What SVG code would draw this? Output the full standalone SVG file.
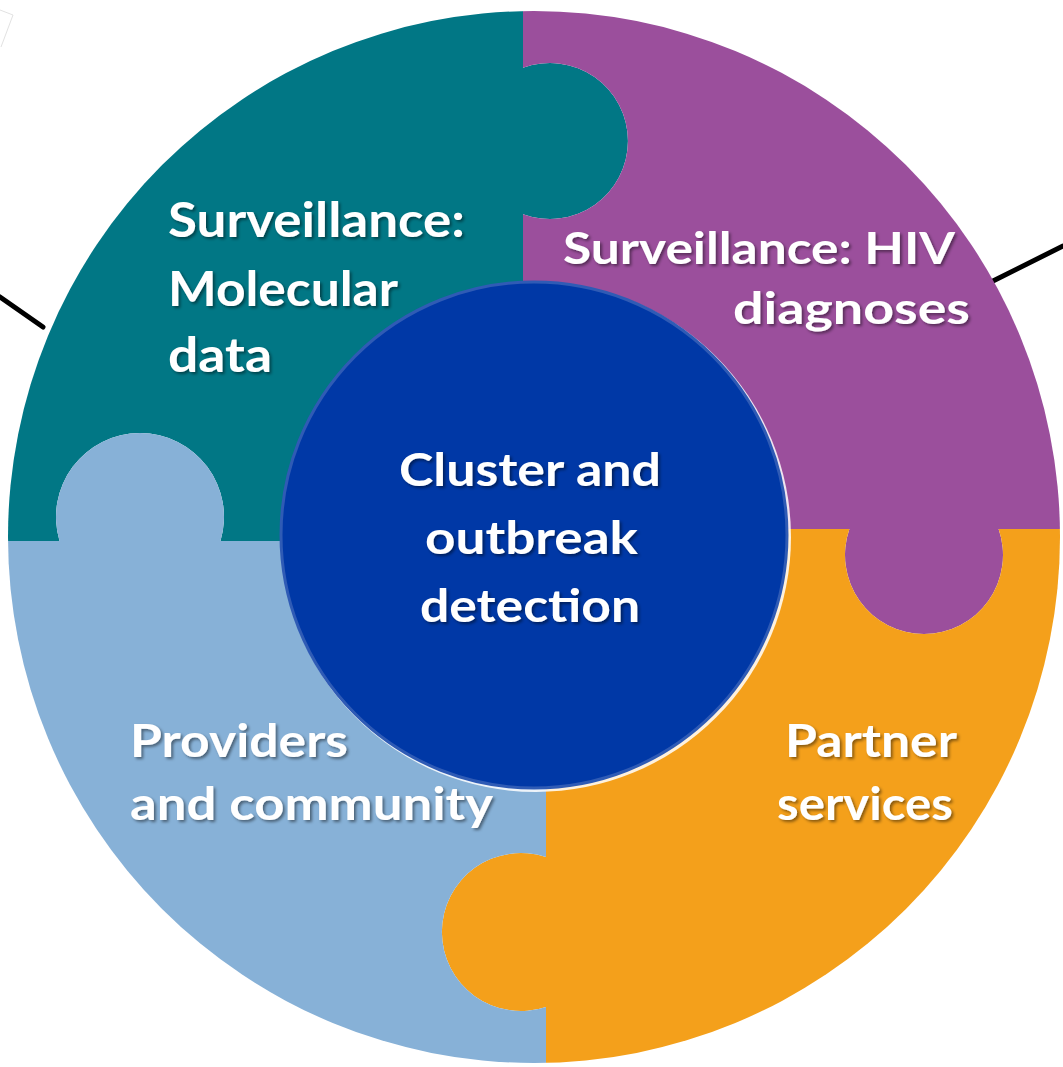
<svg xmlns="http://www.w3.org/2000/svg" width="1063" height="1067" viewBox="0 0 1063 1067">
<defs>
<clipPath id="outer"><circle cx="534" cy="537" r="526"/></clipPath>
<filter id="sh" x="-10%" y="-20%" width="120%" height="150%">
<feDropShadow dx="2" dy="2" stdDeviation="1.5" flood-color="#000" flood-opacity="0.45"/>
</filter>
<style>
.lbl{font-family:Lato,"Open Sans","Liberation Sans",sans-serif;font-weight:bold;fill:#fff;filter:url(#sh)}
.conn{stroke:#000;stroke-width:5;stroke-linecap:round;fill:none}
</style>
</defs>
<rect width="1063" height="1067" fill="#fff"/>
<g id="connectors">
<line class="conn" x1="0" y1="297" x2="43" y2="327"/>
<line class="conn" x1="993" y1="281" x2="1063" y2="246"/>
<polyline points="0,10 13,15 1,47" fill="none" stroke="#e2e2e2" stroke-width="1"/>
</g>
<g clip-path="url(#outer)">
<g id="molecular">
<path fill="#017785" d="M0,0 H523 V67.8 A78,78 0 1 1 523,214.2 V541 H220.5 A84,84 0 1 0 59.5,541 H0 Z"/>
</g>
<g id="hiv">
<path fill="#9B4F9C" d="M523,0 H1063 V529 H998.6 A79,79 0 1 1 849.4,529 H523 V214.2 A78,78 0 1 0 523,67.8 Z"/>
</g>
<g id="partner">
<path fill="#F4A01B" d="M546,529 H849.4 A79,79 0 1 0 998.6,529 H1063 V1067 H546 V1006.9 A79,79 0 1 1 546,857.1 Z"/>
</g>
<g id="providers">
<path fill="#87B1D7" d="M0,541 H59.5 A84,84 0 1 1 220.5,541 H546 V857.1 A79,79 0 1 0 546,1006.9 V1067 H0 Z"/>
</g>
</g>
<g id="center">
<circle cx="536" cy="537" r="255" fill="#fff" opacity="0.85"/>
<circle cx="534" cy="535" r="253" fill="#0038A6" stroke="#2F5BB5" stroke-width="3"/>
</g>
<g id="labels">
<text class="lbl" font-size="48" x="168" y="237" textLength="297" lengthAdjust="spacingAndGlyphs">Surveillance:</text>
<text class="lbl" font-size="48" x="168" y="306" textLength="230" lengthAdjust="spacingAndGlyphs">Molecular</text>
<text class="lbl" font-size="48" x="168" y="372" textLength="104" lengthAdjust="spacingAndGlyphs">data</text>
<text class="lbl" font-size="43" x="563" y="264" textLength="392" lengthAdjust="spacingAndGlyphs">Surveillance: HIV</text>
<text class="lbl" font-size="43" x="733" y="324" textLength="237" lengthAdjust="spacingAndGlyphs">diagnoses</text>
<text class="lbl" font-size="45.5" x="130" y="757" textLength="218" lengthAdjust="spacingAndGlyphs">Providers</text>
<text class="lbl" font-size="45.5" x="130" y="820" textLength="363" lengthAdjust="spacingAndGlyphs">and community</text>
<text class="lbl" font-size="45.5" x="785" y="757" textLength="172" lengthAdjust="spacingAndGlyphs">Partner</text>
<text class="lbl" font-size="45.5" x="777" y="820" textLength="176" lengthAdjust="spacingAndGlyphs">services</text>
<text class="lbl" font-size="45.5" x="399" y="486" textLength="262" lengthAdjust="spacingAndGlyphs">Cluster and</text>
<text class="lbl" font-size="45.5" x="425" y="554" textLength="213" lengthAdjust="spacingAndGlyphs">outbreak</text>
<text class="lbl" font-size="45.5" x="420" y="622" textLength="220" lengthAdjust="spacingAndGlyphs">detection</text>
</g>
</svg>
